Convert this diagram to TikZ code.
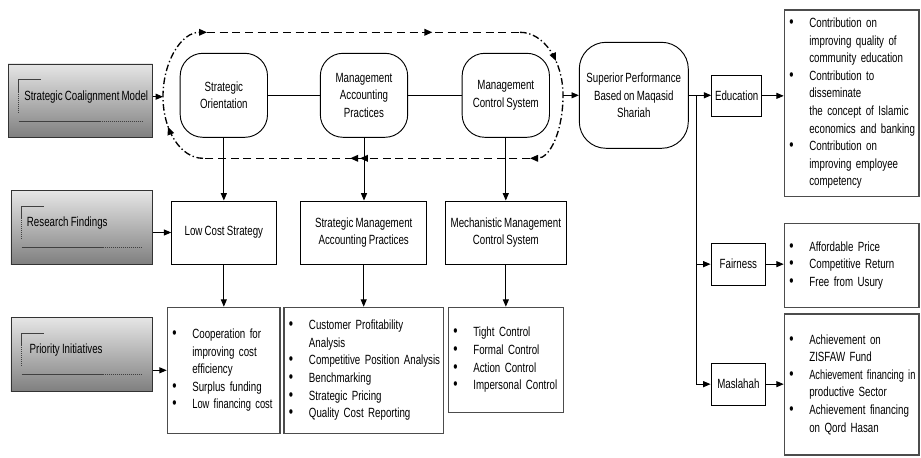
\documentclass[tikz,border=0pt]{standalone}
\usepackage{fontspec}
\setmainfont{Liberation Sans}[FakeStretch=0.73,WordSpace=0.8]
\usetikzlibrary{arrows.meta,decorations.markings}
\tikzstyle{post}=[-{Triangle[length=5.5pt,width=4.5pt]},line width=0.7pt]
\tikzstyle{oval}=[draw,line width=0.7pt,rounded corners=17pt,align=center,minimum width=65.5pt,minimum height=63pt]
\tikzstyle{box}=[draw,line width=0.7pt,align=center,minimum height=47.25pt]
\tikzstyle{smallbox}=[draw,line width=0.7pt,inner xsep=2pt,minimum height=31.3pt]
\tikzstyle{listbox}=[draw=black!70,line width=0.9pt,align=left,inner xsep=3.75pt]
\tikzstyle{graybox}=[draw=black!80,line width=0.7pt,top color=black!10,bottom color=black!50,minimum height=55pt]
\tikzstyle{loopline}=[line width=1.2pt,dash pattern=on 6pt off 3.5pt]
\tikzstyle{looparc}=[line width=1pt,dash pattern=on 5pt off 2pt on 1pt off 2pt]
\tikzset{arrowat/.style={postaction={decorate,decoration={markings,
  mark=at position #1 with {\arrow{Triangle[length=6pt,width=5pt]}}}}}}
\newcommand{\itm}[1]{\makebox[15pt][l]{\scalebox{1.25}{\textbullet}}\mbox{#1}}
\newcommand{\itc}[1]{\hspace*{15pt}\mbox{#1}}

\begin{document}
\begin{tikzpicture}[x=0.75pt,y=-0.75pt,font=\fontsize{10}{13.2}\selectfont]
\useasboundingbox (0,0) rectangle (921,457);

% left column
\node (scm) [graybox,minimum width=108.5pt] at (80.35,100.65) {};
\node (rf) [graybox,minimum width=106.3pt] at (81.85,227.35) {};
\node (pi) [graybox,minimum width=106.3pt] at (81.85,354.35) {};
\node (scmt) [anchor=west,inner sep=0pt] at (24,96.7) {Strategic Coalignment Model};
\node (rft) [anchor=west,inner sep=0pt] at (26.7,223.3) {Research Findings};
\node (pit) [anchor=west,inner sep=0pt] at (29.3,350) {Priority Initiatives};
\foreach \b in {scm,rf,pi}{
  \draw[black!75,line width=0.5pt] ([shift={(33,16)}]\b.north west) -- ([shift={(11,16)}]\b.north west) -- ([shift={(11,28)}]\b.north west);
  \draw[black!75,line width=0.5pt,densely dotted] ([shift={(11,28)}]\b.north west) -- ([shift={(11,49)}]\b.north west);
  \draw[black!75,line width=0.6pt] ([shift={(11,57.5)}]\b.north west) -- ([shift={(92,57.5)}]\b.north west);
  \draw[black!75,line width=0.5pt,densely dotted] ([shift={(92,57.5)}]\b.north west) -- ([shift={(-11,57.5)}]\b.north east);
}

% strategy row
\node (so) [oval] at (223.85,95.3) {Strategic\\Orientation};
\node (map) [oval] at (364,95.3) {Management\\Accounting\\Practices};
\node (mcs) [oval] at (505.8,95.3) {Management\\Control System};
\node (sp) [oval,rounded corners=20pt,minimum width=81.75pt,minimum height=79.5pt] at (633.8,95.3) {Superior Performance\\Based on Maqasid\\Shariah};

\node (lcs) [box,minimum width=78.2pt] at (223.85,232.5) {Low Cost Strategy};
\node (smap) [box,minimum width=94.5pt] at (363.7,232.5) {Strategic Management\\Accounting Practices};
\node (mmcs) [box,minimum width=90.2pt] at (505.85,232.5) {Mechanistic Management\\Control System};

\node (lcsl) [listbox,text width=77pt,minimum height=94.5pt] at (223.65,370.3)
  {\itm{Cooperation for}\\ \itc{improving cost}\\ \itc{efficiency}\\ \itm{Surplus funding}\\ \itm{\scalebox{0.96}[1]{Low financing cost}}};
\node (smapl) [listbox,text width=112pt,minimum height=94.5pt] at (363.65,370.3)
  {\itm{Customer Profitability}\\ \itc{Analysis}\\ \itm{Competitive Position Analysis}\\ \itm{Benchmarking}\\ \itm{Strategic Pricing}\\ \itm{Quality Cost Reporting}};
\node (mmcsl) [listbox,text width=78.75pt,minimum height=78.75pt] at (505.8,359.8)
  {\itm{Tight Control}\\ \itm{Formal Control}\\ \itm{Action Control}\\ \itm{Impersonal Control}};

% right column
\node (edu) [smallbox,minimum width=37.5pt] at (736.7,95.85) {Education};
\node (fair) [smallbox,minimum width=41pt] at (738.35,264.15) {Fairness};
\node (masl) [smallbox,minimum width=41pt] at (738.35,384.15) {Maslahah};
\node (edul) [listbox,text width=93.5pt,minimum height=140pt] at (851.65,103.35)
  {\itm{Contribution on}\\ \itc{improving quality of}\\ \itc{community education}\\ \itm{Contribution to}\\ \itc{disseminate}\\ \itc{the concept of Islamic}\\ \itc{economics and banking}\\ \itm{Contribution on}\\ \itc{improving employee}\\ \itc{competency}};
\node (fairl) [listbox,text width=93.5pt,minimum height=63pt] at (851.65,265.3)
  {\itm{Affordable Price}\\ \itm{Competitive Return}\\ \itm{Free from Usury}};
\node (masll) [listbox,text width=93.5pt,minimum height=105.75pt] at (851.65,384.5)
  {\itm{Achievement on}\\ \itc{ZISFAW Fund}\\ \itm{\scalebox{0.95}[1]{Achievement financing in}}\\ \itc{productive Sector}\\ \itm{Achievement financing}\\ \itc{on Qord Hasan}};

% alignment loop
\coordinate (lpL) at (163,96.7);
\coordinate (lpR) at (563,95.3);
\coordinate (jn) at (696.7,95.3);
\draw[looparc,arrowat=0.3,-{Triangle[length=6pt,width=5pt]}] (203,158.3) .. controls (181,158.3) and (163,131) .. (lpL) .. controls (163,62) and (181,32.3) .. (207,32.3);
\draw[loopline,arrowat=0.72] (207,32.3) -- (520,32.3);
\draw[looparc,arrowat=0.3,-{Triangle[length=6pt,width=5pt]}] (520,32.3) .. controls (544,32.3) and (563,61) .. (lpR) .. controls (563,131) and (550,158.3) .. (530,158.3);
\draw[loopline,arrowat=0.52,arrowat=0.55] (530,158.3) -- (203,158.3);

% connectors
\draw[post] (scm.east |- scmt) -- (lpL);
\draw[line width=0.7pt] (so) -- (map);
\draw[line width=0.7pt] (map) -- (mcs);
\draw[post] (lpR) -- (sp.west);
\draw[post] (so.south) -- (so.south |- lcs.north);
\draw[post] (map.south) -- (map.south |- smap.north);
\draw[post] (mcs.south) -- (mcs.south |- mmcs.north);
\draw[post] (rf.east |- lcs) -- (lcs.west);
\draw[post] (pi.east |- lcsl) -- (lcsl.west);
\draw[post] (lcs.south) -- (lcs.south |- lcsl.north);
\draw[post] (smap.south) -- (smap.south |- smapl.north);
\draw[post] (mmcs.south) -- (mmcs.south |- mmcsl.north);
\draw[line width=0.7pt] (sp.east) -- (jn);
\draw[post] (jn) -- (jn -| edu.west);
\draw[post] (jn) |- (fair.west);
\draw[post] (jn) |- (masl.west);
\draw[post] (edu.east) -- (edu.east -| edul.west);
\draw[post] (fair.east) -- (fair.east -| fairl.west);
\draw[post] (masl.east) -- (masl.east -| masll.west);
\end{tikzpicture}
\end{document}
